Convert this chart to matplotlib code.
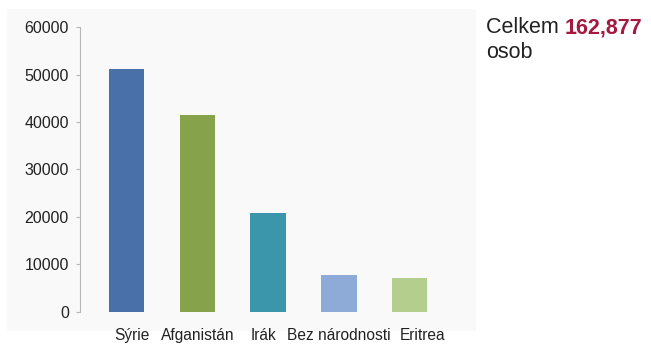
import matplotlib.pyplot as plt

# data
countries = ["Sýrie", "Afganistán", "Irák", "Bez národnosti", "Eritrea"]
persons = [51200, 41500, 20800, 7800, 7200]
bar_colors = ["#4a70aa", "#86a34b", "#3b95ab", "#8eaad6", "#b4ce8e"]
yticks = [0, 10000, 20000, 30000, 40000, 50000, 60000]
total_label = "162,877"

plt.rcParams['font.family'] = ['Liberation Sans', 'DejaVu Sans']

fig = plt.figure(figsize=(6.51, 3.45), dpi=100)
fig.patch.set_facecolor("white")

# faint background panel behind the chart
bg = fig.add_axes([0.011, 0.04, 0.72, 0.935], zorder=0)
bg.set_facecolor("#f9f9f9")
bg.set_xticks([])
bg.set_yticks([])
for s in bg.spines.values():
    s.set_visible(False)

ax = fig.add_axes([0.1229, 0.0957, 0.579, 0.826], zorder=1)
ax.patch.set_alpha(0)

x = list(range(len(countries)))
ax.bar(x, persons, width=0.5, color=bar_colors, zorder=2)

ax.set_xlim(-0.66, 4.67)
ax.set_ylim(0, 60000)
ax.set_yticks(yticks)
ax.set_yticklabels([str(v) for v in yticks], fontsize=11.5, color="#222222")
ax.set_xticks([])

# category labels, nudged a bit like in the original slide (offsets in px)
shifts = [5, 0, -5, 0, 13]
for xi, name, dx in zip(x, countries, shifts):
    ax.annotate(name, xy=(xi, 0), xycoords=("data", "axes fraction"),
                xytext=(dx * 0.72, -17), textcoords="offset points",
                ha="center", va="center", fontsize=11.2, color="#222222")

for s in ["top", "right", "bottom"]:
    ax.spines[s].set_visible(False)
ax.spines["left"].set_color("#b8b8b8")
ax.tick_params(axis="y", length=3, color="#b8b8b8", pad=5)

t1 = fig.text(0.746, 0.904, "Celkem ", fontsize=15.5, color="#222222", va="baseline")
fig.canvas.draw()
bb = t1.get_window_extent()
fig.text(bb.x1 / fig.bbox.width, 0.904, total_label, fontsize=15.5, color="#a3193f",
         fontweight="bold", va="baseline")
fig.text(0.746, 0.832, "osob", fontsize=15.5, color="#222222", va="baseline")

fig.savefig("out.png", dpi=100)
